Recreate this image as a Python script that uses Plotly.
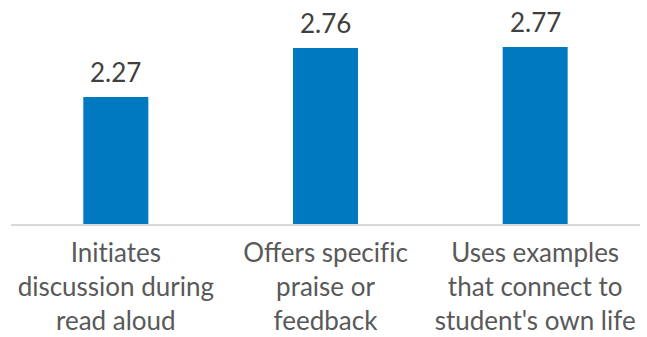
import plotly.graph_objects as go

ZWNJ = "\u200c"  # keeps Lato from joining "ti" / "fi" into ligatures

categories = [
    f"Init{ZWNJ}iates<br>discussion during<br>read aloud",
    f"Offers specif{ZWNJ}ic<br>praise or<br>feedback",
    "Uses examples<br>that connect to<br>student's own life",
]
values = [2.27, 2.76, 2.77]

BLUE = "#0079C1"
VALUE_TEXT = "#404040"
TICK_TEXT = "#595959"

fig = go.Figure(
    go.Bar(
        x=categories,
        y=values,
        marker=dict(color=BLUE, line=dict(width=0)),
        width=0.31,
        cliponaxis=False,
    )
)

# value labels above each bar
for cat, v in zip(categories, values):
    fig.add_annotation(
        x=cat,
        y=v,
        text=f"{v:.2f}",
        showarrow=False,
        yanchor="bottom",
        yshift=7,
        font=dict(family="Lato", size=26, color=VALUE_TEXT),
    )

fig.update_layout(
    width=647,
    height=337,
    margin=dict(l=11, r=7, t=24, b=113, autoexpand=False),
    paper_bgcolor="white",
    plot_bgcolor="white",
    showlegend=False,
    font=dict(family="Lato", size=26, color=TICK_TEXT),
)
fig.update_xaxes(
    showline=True,
    linecolor="#D9D9D9",
    linewidth=2,
    ticks="",
    automargin=False,
    ticklabelstandoff=5,
    tickfont=dict(family="Lato", size=26, color=TICK_TEXT),
    showgrid=False,
)
fig.update_yaxes(
    range=[1, 3],
    visible=False,
    showgrid=False,
    zeroline=False,
)

fig.write_html("out.html")
